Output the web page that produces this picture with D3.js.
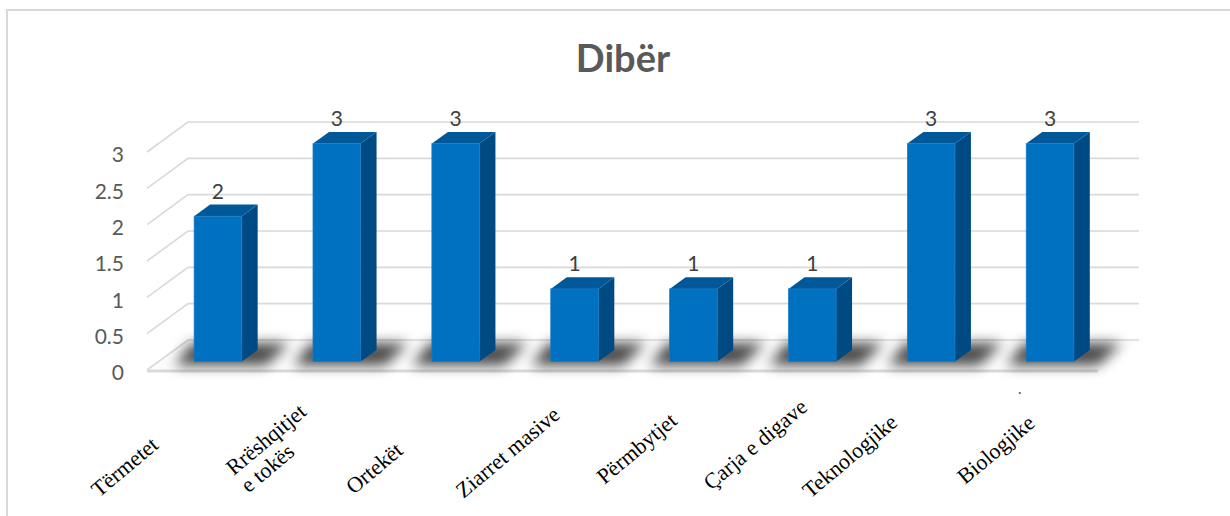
<!DOCTYPE html>
<html>
<head>
<meta charset="utf-8">
<script src="https://cdn.jsdelivr.net/npm/d3@7/dist/d3.min.js"></script>
<style>
  body { margin: 0; background: #fff; }
  svg { display: block; }
</style>
</head>
<body>
<svg id="chart" width="1230" height="516"></svg>
<script>
// data
const categories = ["Tërmetet", "Rrëshqitjet e tokës", "Ortekët", "Ziarret masive",
                    "Përmbytjet", "Çarja e digave", "Teknologjike", "Biologjike"];
const values = [2, 3, 3, 1, 1, 1, 3, 3];
const yTicks = [0, 0.5, 1, 1.5, 2, 2.5, 3];
const labelLines = [["Tërmetet"], ["Rrëshqitjet", "e tokës"], ["Ortekët"], ["Ziarret masive"],
                    ["Përmbytjet"], ["Çarja e digave"], ["Teknologjike"], ["Biologjike"]];
// hand placement of the category labels (dx from bar centre, y of baseline start)
const labelNudge = [[-119, 498], [-103, 476], [-102, 495], [-111, 499],
                    [-89, 485], [-101, 491], [-121, 499], [-85, 485]];

const svg = d3.select("#chart");
const width = 1230, height = 516;
const depth = { x: 41, y: -30 };          // full depth of the floor
const barZ0 = 0.28, barZ1 = 0.67;         // bar sits between these depth fractions

const xScale = d3.scaleBand()
  .domain(categories)
  .range([147, 1098])
  .paddingInner(0.6)
  .paddingOuter(0.3);

const yScale = d3.scaleLinear()
  .domain([0, 3])
  .range([370, 152]);

const P = (x, y, z) => [x + z * depth.x, y + z * depth.y];

const defs = svg.append("defs");
defs.append("filter").attr("id", "blur")
  .attr("x", "-50%").attr("y", "-150%").attr("width", "200%").attr("height", "400%")
  .append("feGaussianBlur").attr("stdDeviation", 6.5);

// chart border
svg.append("path")
  .attr("d", `M7,${height} L7,10 L${width},10`)
  .attr("fill", "none")
  .attr("stroke", "#d9d9d9")
  .attr("stroke-width", 2);

// title
svg.append("text")
  .attr("x", 623).attr("y", 72)
  .attr("text-anchor", "middle")
  .attr("font-family", "Lato, 'Open Sans', sans-serif")
  .attr("font-weight", "bold")
  .attr("font-size", 38)
  .attr("fill", "#595959")
  .text("Dibër");

const x0 = xScale.range()[0], x1 = xScale.range()[1];
const y0 = yScale(0);

// floor
const floor = [P(x0, y0, 0), P(x1, y0, 0), P(x1, y0, 1), P(x0, y0, 1)];
svg.append("polygon")
  .attr("points", floor.join(" "))
  .attr("fill", "#fcfcfc");
svg.append("line")
  .attr("x1", x0).attr("x2", x1)
  .attr("y1", y0 + 1).attr("y2", y0 + 1)
  .attr("stroke", "#d9d9d9").attr("stroke-width", 3);

// gridlines: back wall + left wall
const grid = svg.append("g").attr("stroke", "#d9d9d9").attr("stroke-width", 1.6).attr("fill", "none");
yTicks.forEach(t => {
  const a = P(x0, yScale(t), 0), b = P(x0, yScale(t), 1), c = P(x1, yScale(t), 1);
  grid.append("polyline").attr("points", [a, b, c].join(" "));
});

// y axis labels
const yAxis = svg.append("g")
  .attr("transform", "translate(124,3)")
  .call(d3.axisLeft(yScale).tickValues(yTicks).tickSize(0).tickPadding(0).tickFormat(d3.format("~g")));
yAxis.select(".domain").remove();
yAxis.selectAll("text")
  .attr("font-family", "Lato, sans-serif")
  .attr("font-size", 21)
  .attr("fill", "#595959");

// shadows
const shadows = svg.append("g").attr("filter", "url(#blur)");
categories.forEach((c, i) => {
  const bx = xScale(c), bw = xScale.bandwidth();
  const pts = [P(bx - 14, y0, 0.15), P(bx + bw + 30, y0, 0.15), P(bx + bw + 22, y0, 0.9), P(bx - 28, y0, 0.9)];
  shadows.append("polygon")
    .attr("points", pts.join(" "))
    .attr("fill", "#000")
    .attr("opacity", 0.7);
});

// bars
const bars = svg.append("g");
categories.forEach((c, i) => {
  const bx = xScale(c), bw = xScale.bandwidth();
  const yv = yScale(values[i]);
  const g = bars.append("g");
  // side
  g.append("polygon")
    .attr("points", [P(bx + bw, yv, barZ0), P(bx + bw, yv, barZ1), P(bx + bw, y0, barZ1), P(bx + bw, y0, barZ0)].join(" "))
    .attr("fill", "#004a83");
  // top
  g.append("polygon")
    .attr("points", [P(bx, yv, barZ0), P(bx + bw, yv, barZ0), P(bx + bw, yv, barZ1), P(bx, yv, barZ1)].join(" "))
    .attr("fill", "#005899");
  // front
  const f = P(bx, yv, barZ0);
  g.append("rect")
    .attr("x", f[0]).attr("y", f[1])
    .attr("width", bw)
    .attr("height", y0 - yv)
    .attr("fill", "#0070c0")
    .attr("stroke", "#1a7cc4")
    .attr("stroke-width", 0.8);

  // value label
  const top = P(bx + bw / 2, yv, barZ1);
  svg.append("text")
    .attr("x", f[0] + bw / 2)
    .attr("y", top[1] - 6)
    .attr("text-anchor", "middle")
    .attr("font-family", "Lato, sans-serif")
    .attr("font-size", 21)
    .attr("fill", "#404040")
    .text(values[i]);
});

// category labels
categories.forEach((c, i) => {
  const cx = P(xScale(c) + xScale.bandwidth() / 2, 0, barZ0)[0];
  const lx = cx + labelNudge[i][0], ly = labelNudge[i][1];
  const t = svg.append("text")
    .attr("transform", `translate(${lx},${ly}) rotate(-40)`)
    .attr("font-family", "'Liberation Serif', 'Times New Roman', serif")
    .attr("font-size", 22)
    .attr("fill", "#000");
  labelLines[i].forEach((ln, k) => {
    t.append("tspan").attr("x", 0).attr("dy", k === 0 ? 0 : 23).text(ln);
  });
});

// stray dot under the last label
svg.append("circle")
  .attr("cx", P(xScale("Biologjike"), 0, 0)[0] + 5).attr("cy", 393)
  .attr("r", 1.1).attr("fill", "#555");
</script>
</body>
</html>
